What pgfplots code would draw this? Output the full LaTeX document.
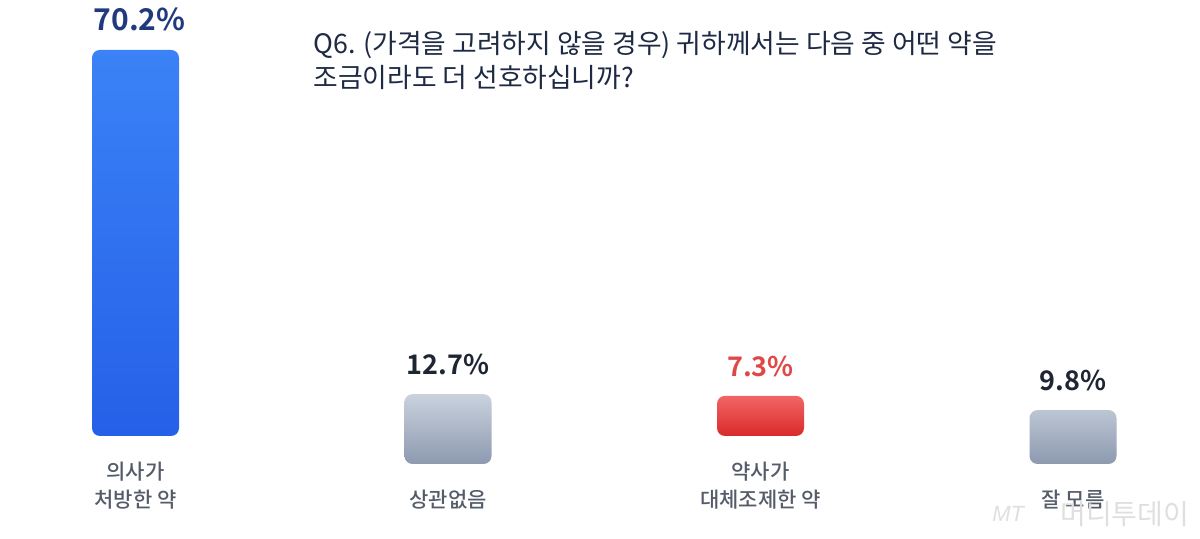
\documentclass[border=0pt]{standalone}
\usepackage{fontspec}
\setmainfont{Noto Sans CJK KR}
\newfontfamily\medfont{Noto Sans CJK KR Medium}
\newfontfamily\boldfont{Noto Sans CJK KR Bold}
\newfontfamily\libsans{Liberation Sans}
\usepackage{pgfplots}
\pgfplotsset{compat=1.18}

\definecolor{blueTop}{HTML}{3B82F6}
\definecolor{blueBot}{HTML}{2560E8}
\definecolor{grayTop}{HTML}{CAD2DE}
\definecolor{grayBot}{HTML}{8C99AF}
\definecolor{redTop}{HTML}{F26666}
\definecolor{redBot}{HTML}{D92A2A}
\definecolor{navy}{HTML}{213A7E}
\definecolor{darkTxt}{HTML}{1F2633}
\definecolor{redTxt}{HTML}{E04848}
\definecolor{labelTxt}{HTML}{555C69}
\definecolor{titleTxt}{HTML}{1E2A44}

% 1 px of the reference = 0.5pt
\pgfplotsset{
  barbase/.style={
    at={(0,0)}, anchor=south west,
    scale only axis, width=600pt, height=269.5pt,
    hide axis, clip=false,
    xmin=-0.4336, xmax=3.4064,
    ybar, bar width=43.5pt, bar shift=0pt,
    nodes near coords, point meta=explicit symbolic,
    every node near coord/.append style={inner sep=0pt, yshift=9.5pt, anchor=south},
  },
}

\begin{document}
\begin{tikzpicture}
% bars whose base sits at y=436 px
\begin{axis}[barbase, ymin=-18.727, ymax=79.273]
\addplot[draw=none, rounded corners=4pt, top color=blueTop, bottom color=blueBot,
  every node near coord/.append style={text=navy, xshift=2pt, font=\boldfont\fontsize{15}{17}\selectfont}]
  coordinates {(0,70.2) [70.2\%]};
\addplot[draw=none, rounded corners=4pt, top color=redTop, bottom color=redBot,
  every node near coord/.append style={text=redTxt, font=\boldfont\fontsize{13.5}{16}\selectfont}]
  coordinates {(2,7.3) [7.3\%]};
\end{axis}
% bars whose base sits at y=464 px
\begin{axis}[barbase, ymin=-13.636, ymax=84.364]
\addplot[draw=none, rounded corners=4pt, top color=grayTop, bottom color=grayBot,
  every node near coord/.append style={text=darkTxt, font=\boldfont\fontsize{13.5}{16}\selectfont}]
  coordinates {(1,12.7) [12.7\%] (3,9.8) [9.8\%]};
\end{axis}

\begin{scope}[shift={(0,269.5pt)}, x=0.5pt, y=-0.5pt]
  % title
  \node[anchor=west, inner sep=0pt, text=titleTxt, font=\fontsize{13.4}{16}\selectfont]
    at (313,45) {Q6. (가격을 고려하지 않을 경우) 귀하께서는 다음 중 어떤 약을};
  \node[anchor=west, inner sep=0pt, text=titleTxt, font=\fontsize{13.4}{16}\selectfont]
    at (313,77) {조금이라도 더 선호하십니까?};
  % category labels
  \begin{scope}[every node/.style={inner sep=0pt, text=labelTxt, font=\medfont\fontsize{10.5}{13}\selectfont}]
    \node at (135.5,472) {의사가};
    \node at (135.5,500) {처방한 약};
    \node at (448,500) {상관없음};
    \node at (760.5,472) {약사가};
    \node at (760.5,500) {대체조제한 약};
    \node at (1073,500) {잘 모름};
  \end{scope}
  % watermark
  \node[anchor=west, inner sep=0pt, text=gray!25, font=\libsans\itshape\fontsize{11}{13}\selectfont]
    at (992,514) {MT};
  \node[anchor=west, inner sep=0pt, text=gray!25, font=\fontsize{14}{16}\selectfont]
    at (1060,514) {머니투데이};
\end{scope}

\pgfresetboundingbox
\path (0,0) rectangle (600pt,269.5pt);
\end{tikzpicture}
\end{document}
